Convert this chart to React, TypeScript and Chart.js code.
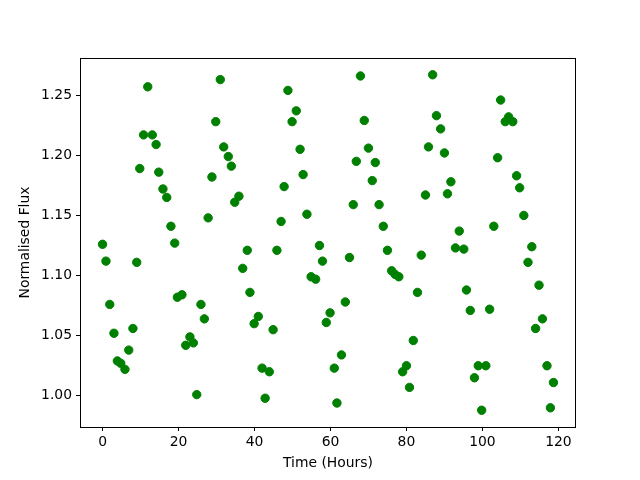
import React, { useEffect, useRef } from "react";
import { Chart, registerables } from "chart.js";

Chart.register(...registerables);

const times = [0.0,0.9,1.9,3.0,3.9,4.8,5.9,6.9,8.0,9.0,9.8,10.8,11.9,13.1,14.1,14.8,15.9,16.9,18.0,19.0,19.7,20.9,21.9,23.0,23.9,24.8,25.9,26.8,27.8,28.8,29.8,31.0,31.9,33.1,33.9,34.8,35.9,36.9,38.1,38.8,39.9,41.0,42.0,42.8,43.9,44.9,45.9,47.0,47.8,48.8,49.9,51.0,52.0,52.8,53.8,54.9,56.1,57.1,57.9,58.9,59.9,61.0,61.7,62.9,63.9,65.0,66.0,66.8,67.9,68.9,70.0,71.0,71.8,72.8,73.9,75.0,76.1,77.0,78.0,79.0,80.0,80.8,81.8,82.9,83.9,85.0,85.8,86.9,87.9,89.0,90.0,90.8,91.7,92.9,93.9,95.1,95.8,96.8,97.9,98.9,99.8,100.9,101.9,103.0,104.0,104.8,106.0,106.9,108.0,109.0,109.8,110.9,112.0,113.0,114.0,114.9,115.8,117.0,117.9,118.7];

const flux = [1.126,1.112,1.076,1.052,1.029,1.027,1.022,1.038,1.056,1.111,1.189,1.217,1.257,1.217,1.209,1.186,1.172,1.165,1.141,1.127,1.082,1.084,1.042,1.049,1.044,1.001,1.076,1.064,1.148,1.182,1.228,1.263,1.207,1.199,1.191,1.161,1.166,1.106,1.121,1.086,1.060,1.066,1.023,0.998,1.020,1.055,1.121,1.145,1.174,1.254,1.228,1.237,1.205,1.184,1.151,1.099,1.097,1.125,1.112,1.061,1.069,1.023,0.994,1.034,1.078,1.115,1.159,1.195,1.266,1.229,1.206,1.179,1.194,1.159,1.141,1.121,1.104,1.101,1.099,1.020,1.025,1.007,1.046,1.086,1.117,1.167,1.207,1.267,1.233,1.222,1.202,1.168,1.178,1.123,1.137,1.122,1.088,1.071,1.015,1.025,0.988,1.025,1.072,1.141,1.198,1.246,1.228,1.232,1.228,1.183,1.173,1.150,1.111,1.124,1.056,1.092,1.064,1.025,0.990,1.011];

const xTicks = [0, 20, 40, 60, 80, 100, 120];
const yTicks = [1.0, 1.05, 1.1, 1.15, 1.2, 1.25];

const xTitle = "Time (Hours)";
const yTitle = "Normalised Flux";

const FONT = "'DejaVu Sans', sans-serif";

function range(vals: number[]) {
  const lo = Math.min(...vals);
  const hi = Math.max(...vals);
  const m = (hi - lo) * 0.05;
  return [lo - m, hi + m];
}

const framePlugin = {
  id: "frame",
  afterDraw(chart: any) {
    const { ctx, chartArea } = chart;
    ctx.save();
    ctx.strokeStyle = "#000";
    ctx.lineWidth = 1;
    ctx.strokeRect(
      Math.round(chartArea.left) + 0.5,
      Math.round(chartArea.top) + 0.5,
      Math.round(chartArea.right - chartArea.left) - 1,
      Math.round(chartArea.bottom - chartArea.top)
    );
    ctx.restore();
  },
};

export default function App() {
  const ref = useRef<HTMLCanvasElement | null>(null);

  useEffect(() => {
    document.body.style.margin = "0";
    const canvas = ref.current;
    if (!canvas) return;
    const [xmin, xmax] = range(times);
    const [ymin, ymax] = range(flux);
    const chart = new Chart(canvas, {
      type: "scatter",
      data: {
        datasets: [
          {
            data: times.map((t, i) => ({ x: t, y: flux[i] })),
            backgroundColor: "#008000",
            borderColor: "#008000",
            pointRadius: 4.2,
            borderWidth: 1,
          },
        ],
      },
      options: {
        responsive: false,
        animation: false,
        devicePixelRatio: 1,
        layout: { padding: { top: 58, right: 64, left: 0, bottom: 0 } },
        plugins: {
          legend: { display: false },
          tooltip: { enabled: false },
        },
        scales: {
          x: {
            type: "linear",
            min: xmin,
            max: xmax,
            afterFit: (s: any) => {
              s.height = 53;
            },
            afterBuildTicks: (s: any) => {
              s.ticks = xTicks.map((v) => ({ value: v }));
            },
            border: { display: false },
            grid: {
              drawOnChartArea: false,
              drawTicks: true,
              tickLength: 4,
              color: "#000",
              tickColor: "#000",
            },
            ticks: {
              color: "#000",
              padding: 3.5,
              font: { family: FONT, size: 13.9 },
              callback: (v: any) => String(v),
            },
            title: {
              display: true,
              text: xTitle,
              color: "#000",
              font: { family: FONT, size: 13.9 },
              padding: { top: 0, bottom: 8.7 },
            },
          },
          y: {
            type: "linear",
            min: ymin,
            max: ymax,
            afterFit: (s: any) => {
              s.width = 80;
            },
            afterBuildTicks: (s: any) => {
              s.ticks = yTicks.map((v) => ({ value: v }));
            },
            border: { display: false },
            grid: {
              drawOnChartArea: false,
              drawTicks: true,
              tickLength: 4,
              color: "#000",
              tickColor: "#000",
            },
            ticks: {
              color: "#000",
              padding: 4,
              font: { family: FONT, size: 13.9 },
              callback: (v: any) => Number(v).toFixed(2),
            },
            title: {
              display: true,
              text: yTitle,
              color: "#000",
              font: { family: FONT, size: 13.9 },
              padding: { top: 17.5, bottom: 0 },
            },
          },
        },
      },
      plugins: [framePlugin],
    });
    return () => chart.destroy();
  }, []);

  return (
    <div style={{ width: 640, height: 480, background: "#fff" }}>
      <canvas ref={ref} width={640} height={480} style={{ display: "block" }} />
    </div>
  );
}
